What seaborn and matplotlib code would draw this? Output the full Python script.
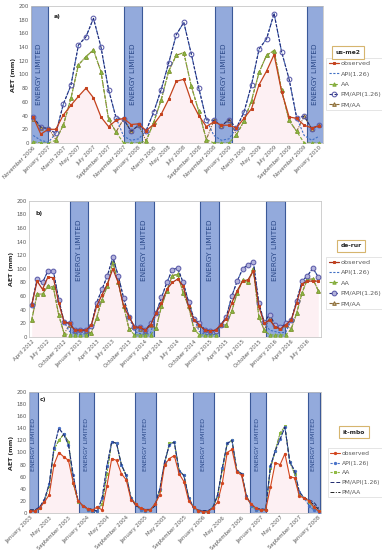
import numpy as np
import seaborn as sns
import matplotlib
matplotlib.use("Agg")
import matplotlib.pyplot as plt

# ---- panel a) us-me2, monthly Nov 2006 - Jan 2010
a_obs = [38, 13, 20, 20, 41, 55, 68, 80, 66, 38, 24, 33, 36, 27, 28, 18, 27, 42, 64, 90,
         93, 61, 40, 24, 31, 26, 26, 22, 36, 50, 85, 105, 129, 75, 38, 36, 26, 22, 25]
a_api = [11, 4, 1, 14, 57, 84, 143, 155, 182, 140, 78, 37, 10, 4, 6, 18, 45, 78, 117, 158,
         176, 130, 80, 34, 11, 4, 6, 22, 45, 85, 137, 152, 189, 133, 93, 37, 11, 4, 10]
a_aa = [2, 0, 0, 4, 26, 65, 114, 126, 136, 104, 35, 16, 0, 0, 0, 3, 30, 63, 105, 128,
        132, 83, 46, 5, 0, 0, 0, 12, 32, 62, 103, 128, 135, 77, 33, 17, 0, 0, 0]
a_pm_api = [38, 23, 21, 14, 57, 84, 143, 155, 182, 140, 78, 37, 35, 17, 26, 18, 45, 78, 117, 158,
            176, 130, 80, 34, 33, 25, 34, 22, 45, 85, 137, 152, 189, 133, 93, 37, 39, 21, 26]
a_pm_aa = [35, 22, 22, 5, 26, 65, 114, 126, 136, 104, 35, 16, 35, 17, 26, 3, 30, 63, 105, 128,
           132, 83, 46, 5, 33, 25, 34, 12, 32, 62, 103, 128, 135, 77, 33, 17, 39, 21, 26]
a_ticks = ["November 2006", "January 2007", "March 2007", "May 2007", "July 2007",
           "September 2007", "November 2007", "January 2008", "March 2008", "May 2008",
           "July 2008", "September 2008", "November 2008", "January 2009", "March 2009",
           "May 2009", "July 2009", "September 2009", "November 2009", "January 2010"]
a_bands = [(-0.3, 1.9), (12.1, 14.4), (24.2, 26.4), (36.4, 38.6)]

# ---- panel b) de-rur, monthly Apr 2012 - Sep 2016
b_obs = [47, 82, 70, 88, 87, 50, 22, 20, 10, 10, 10, 17, 45, 62, 78, 100, 80, 45, 30, 15,
         14, 10, 18, 35, 50, 70, 80, 85, 75, 45, 25, 18, 10, 9, 10, 18, 27, 50, 68, 82,
         84, 97, 45, 20, 25, 15, 12, 18, 25, 50, 78, 82, 82, 82]
b_api = [47, 85, 80, 97, 97, 55, 22, 8, 5, 4, 5, 16, 50, 70, 90, 117, 90, 57, 30, 8,
         5, 4, 6, 35, 58, 80, 99, 101, 80, 52, 27, 8, 4, 3, 4, 18, 30, 60, 82, 100,
         106, 110, 50, 22, 10, 8, 6, 7, 25, 53, 82, 90, 101, 88]
b_aa = [25, 63, 63, 75, 73, 32, 5, 3, 3, 3, 3, 6, 28, 55, 75, 110, 80, 45, 12, 3,
        3, 3, 3, 13, 45, 68, 90, 92, 65, 45, 12, 3, 3, 3, 3, 17, 18, 38, 65, 83,
        80, 100, 30, 10, 3, 3, 3, 3, 12, 35, 65, 85, 85, 68]
b_pm_api = [47, 85, 80, 97, 97, 55, 22, 20, 10, 11, 10, 16, 50, 70, 90, 117, 90, 57, 30, 15,
            14, 10, 20, 35, 58, 80, 99, 101, 80, 52, 27, 20, 11, 9, 9, 18, 30, 60, 82, 100,
            106, 110, 50, 22, 33, 18, 14, 20, 25, 53, 82, 90, 101, 88]
b_pm_aa = [25, 63, 63, 75, 73, 32, 5, 18, 9, 10, 9, 6, 28, 55, 75, 110, 80, 45, 12, 14,
           12, 9, 18, 13, 45, 68, 90, 92, 65, 45, 12, 18, 10, 8, 9, 17, 18, 38, 65, 83,
           80, 100, 30, 10, 28, 16, 13, 18, 12, 35, 65, 85, 85, 68]
b_ticks = ["April 2012", "July 2012", "October 2012", "January 2013", "April 2013",
           "July 2013", "October 2013", "January 2014", "April 2014", "July 2014",
           "October 2014", "January 2015", "April 2015", "July 2015", "October 2015",
           "January 2016", "April 2016", "July 2016"]
b_bands = [(7.0, 10.5), (19.1, 22.6), (31.2, 34.6), (43.3, 46.8)]

# ---- panel c) it-mbo, monthly Jan 2003 - Jan 2008
c_obs = [3, 3, 8, 18, 30, 80, 100, 93, 87, 50, 20, 12, 7, 5, 10, 5, 45, 90, 87, 65,
         55, 22, 15, 8, 5, 5, 15, 30, 80, 90, 95, 65, 52, 20, 10, 4, 2, 2, 8, 18,
         50, 100, 105, 68, 62, 25, 15, 8, 5, 5, 43, 83, 80, 98, 60, 58, 28, 25, 20, 10, 3]
c_api = [3, 3, 10, 22, 48, 108, 140, 130, 113, 62, 20, 12, 5, 3, 3, 25, 78, 118, 115, 80,
         62, 25, 15, 5, 3, 5, 15, 40, 85, 113, 117, 70, 62, 25, 10, 3, 2, 2, 10, 30,
         75, 115, 120, 70, 65, 28, 12, 5, 5, 5, 78, 103, 122, 142, 85, 70, 35, 25, 12, 5, 2]
c_aa = [3, 3, 8, 20, 45, 105, 120, 130, 118, 50, 18, 12, 5, 3, 3, 15, 65, 118, 115, 80,
        62, 25, 15, 5, 3, 5, 15, 38, 83, 115, 117, 70, 62, 25, 10, 3, 2, 2, 10, 28,
        72, 115, 120, 70, 65, 28, 12, 5, 5, 5, 75, 103, 132, 143, 85, 65, 30, 25, 18, 8, 3]
c_pm_api = [5, 5, 10, 22, 48, 108, 140, 130, 113, 62, 20, 12, 8, 6, 3, 25, 78, 118, 115, 80,
            62, 25, 12, 8, 6, 6, 12, 40, 85, 113, 117, 70, 62, 25, 8, 5, 4, 4, 8, 30,
            75, 115, 120, 70, 65, 28, 14, 8, 7, 6, 78, 103, 122, 142, 85, 70, 35, 25, 22, 18, 8]
c_pm_aa = [5, 5, 8, 20, 45, 105, 120, 130, 118, 50, 18, 12, 7, 5, 3, 15, 65, 118, 115, 80,
           62, 25, 12, 7, 5, 5, 12, 38, 83, 115, 117, 70, 62, 25, 8, 4, 3, 3, 8, 28,
           72, 115, 120, 70, 65, 28, 13, 7, 6, 5, 75, 103, 132, 143, 85, 65, 30, 25, 20, 14, 6]
c_ticks = ["January 2003", "May 2003", "September 2003", "January 2004", "May 2004",
           "September 2004", "January 2005", "May 2005", "September 2005", "January 2006",
           "May 2006", "September 2006", "January 2007", "May 2007", "September 2007",
           "January 2008"]
c_bands = [(-0.2, 1.7), (10.1, 13.3), (21.9, 26.2), (33.9, 38.2), (45.7, 49.0), (57.7, 60.2)]

names = ["observed", "API(1.26)", "AA", "PM/API(1.26)", "PM/AA"]

sns.set_style("white")
plt.rcParams['font.family'] = ['DejaVu Sans']

BAND_FC = '#93AADC'
BAND_EC = '#3B5998'
TXT = '#595959'

style_ab = {
    "observed": dict(color='#C4421E', linestyle='-', marker='s', markersize=2.0,
                     markerfacecolor='#C4421E', markeredgecolor='#C4421E', linewidth=0.9, zorder=6),
    "API(1.26)": dict(color='#4170C4', linestyle=(0, (2, 1.4)), marker='', linewidth=0.8, zorder=4),
    "AA": dict(color='#7FAA35', linestyle=(0, (3, 1.5)), marker='^', markersize=2.4,
               markerfacecolor='#9BBB59', markeredgecolor='#7FAA35', linewidth=0.8, zorder=3),
    "PM/API(1.26)": dict(color='#232C78', linestyle=(0, (3, 1.5)), marker='o', markersize=3.4,
                         markerfacecolor='none', markeredgecolor='#5C5CAA', linewidth=0.8, zorder=5),
    "PM/AA": dict(color='#8A6A36', linestyle=(0, (3, 1, 1, 1)), marker='^', markersize=2.6,
                  markerfacecolor='#CDBE8E', markeredgecolor='#8A6A36', linewidth=0.8, zorder=2),
}
style_b = {k: dict(v) for k, v in style_ab.items()}
style_b["PM/API(1.26)"]["markerfacecolor"] = '#B4B4DC'
style_b["observed"]["color"] = '#A8321C'

style_c = {
    "observed": dict(color='#D2451E', linestyle='-', marker='o', markersize=1.6,
                     markerfacecolor='#D2451E', markeredgecolor='#D2451E', linewidth=0.8, zorder=6),
    "API(1.26)": dict(color='#4A72C8', linestyle=(0, (2, 1.2)), marker='o', markersize=1.6,
                      markerfacecolor='#4A72C8', markeredgecolor='#4A72C8', linewidth=0.8, zorder=4),
    "AA": dict(color='#8DB840', linestyle=(0, (2, 1.2)), marker='s', markersize=1.6,
               markerfacecolor='#9BC24A', markeredgecolor='#8DB840', linewidth=0.8, zorder=3),
    "PM/API(1.26)": dict(color='#1F2A6E', linestyle=(0, (4, 2)), marker='', linewidth=0.7, zorder=5),
    "PM/AA": dict(color='#222222', linestyle=(0, (4, 1.5, 1, 1.5)), marker='', linewidth=0.7, zorder=2),
}

fig = plt.figure(figsize=(3.82, 5.5), dpi=100)


def draw_panel(rect, series, bands, ticks, step, styles, letter, letter_xy,
               band_txt_y, band_fs, site, site_xy, leg_xy, leg_fs):
    ax = fig.add_axes(rect)
    n = len(series[0])
    months = np.arange(n)
    ax.fill_between(months, 0, series[0], color='#FDF0F3', linewidth=0, zorder=0.5)
    for x0, x1 in bands:
        ax.axvspan(x0, x1, facecolor=BAND_FC, edgecolor=BAND_EC, linewidth=0.8, zorder=1)
        ax.text((x0 + x1) / 2, band_txt_y, "ENERGY LIMITED", rotation=90, ha='center',
                va='center', fontsize=band_fs, color='#2A4888', zorder=1.5)
    for name, vals in zip(names, series):
        sns.lineplot(x=months, y=vals, ax=ax, label=name, **styles[name])
    ax.set_ylim(0, 200)
    ax.set_yticks(range(0, 201, 20))
    ax.set_xlim(-0.5 if bands[0][0] > 0 else bands[0][0], n - 1 + 0.5)
    ax.set_xticks(range(0, n, step))
    ax.set_xticklabels(ticks, rotation=45, ha='right', rotation_mode='anchor')
    ax.tick_params(axis='both', length=0, labelsize=3.9, colors=TXT, pad=1.5)
    ax.set_ylabel("AET (mm)", fontsize=4.5, fontweight='bold', labelpad=2)
    ax.set_xlabel("")
    for sp in ax.spines.values():
        sp.set_color('#C8C8C8')
        sp.set_linewidth(0.6)
    ax.text(letter_xy[0], letter_xy[1], letter, transform=ax.transAxes, fontsize=4.5,
            fontweight='bold', ha='center', va='center')
    fig.text(site_xy[0], site_xy[1], site, fontsize=4.3, fontweight='bold', ha='center',
             va='center', bbox=dict(boxstyle='square,pad=0.6', fc='white', ec='#D6B56E', lw=0.8))
    leg = ax.legend(loc='upper left', bbox_to_anchor=leg_xy, bbox_transform=fig.transFigure,
                    fontsize=leg_fs, frameon=True, fancybox=False, edgecolor='#D9D9D9',
                    handlelength=1.6, handletextpad=0.3, borderpad=0.45, labelspacing=0.75,
                    borderaxespad=0)
    leg.get_frame().set_linewidth(0.6)
    for t in leg.get_texts():
        t.set_color(TXT)
    return ax


draw_panel([31 / 382, 1 - 143 / 550, 292 / 382, 137 / 550],
           [a_obs, a_api, a_aa, a_pm_api, a_pm_aa], a_bands, a_ticks, 2, style_ab,
           "a)", (0.088, 0.927), 100, 5.3, "us-me2", (0.911, 0.9045), (0.853, 0.8945), 4.6)

draw_panel([29 / 382, 1 - 337 / 550, 292 / 382, 136.3 / 550],
           [b_obs, b_api, b_aa, b_pm_api, b_pm_aa], b_bands, b_ticks, 3, style_b,
           "b)", (0.034, 0.907), 128, 5.3, "de-rur", (0.919, 0.553), (0.853, 0.533), 4.6)

draw_panel([29 / 382, 1 - 513 / 550, 292 / 382, 121 / 550],
           [c_obs, c_api, c_aa, c_pm_api, c_pm_aa], c_bands, c_ticks, 4, style_c,
           "c)", (0.049, 0.934), 114, 4.6, "it-mbo", (0.927, 0.2145), (0.858, 0.185), 4.3)

fig.savefig("out.png", dpi=100)
